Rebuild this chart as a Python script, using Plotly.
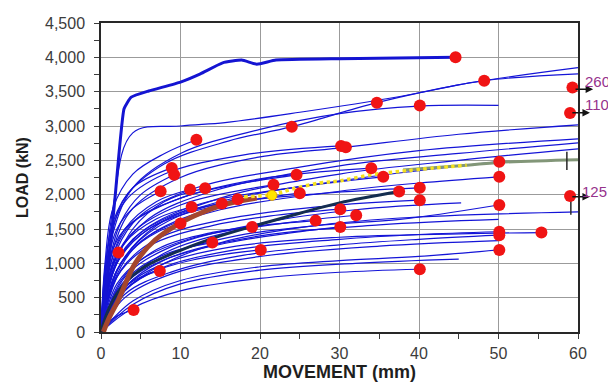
import plotly.graph_objects as go

# ---------------- data ----------------
# thin blue load-movement curves: (movement mm list, load kN list)
blue_curves = [
    ([0, 0.5, 1.2, 2.2], [0, 500, 900, 1156]),
    ([0, 1, 2.5, 4.1], [0, 150, 260, 321]),
    ([0, 1, 3, 5, 7.4], [0, 350, 650, 800, 889]),
    ([0, 0.8, 2, 4, 7.5], [0, 1000, 1500, 1800, 2050]),
    ([0, 0.6, 1.5, 4, 8.9], [0, 1000, 1600, 2100, 2390]),
    ([0, 1, 2.5, 5, 9.2], [0, 1000, 1600, 2000, 2290]),
    ([0, 0.5, 1.5, 4, 8, 12], [0, 1000, 1800, 2300, 2600, 2800]),
    ([0, 1, 3, 7, 11.2], [0, 900, 1500, 1900, 2075]),
    ([0, 1.5, 4, 8, 13.1], [0, 900, 1500, 1900, 2095]),
    ([0, 1.5, 4, 7, 10], [0, 700, 1200, 1450, 1580]),
    ([0, 1, 3, 7, 11.4], [0, 800, 1300, 1650, 1820]),
    ([0, 2, 5, 9, 14], [0, 600, 950, 1170, 1302]),
    ([0, 1.5, 4, 9, 15.2], [0, 900, 1350, 1700, 1870]),
    ([0, 2, 5, 10, 17.2], [0, 900, 1350, 1700, 1934]),
    ([0, 2, 5, 11, 19], [0, 700, 1050, 1350, 1530]),
    ([0, 2, 6, 12, 20.1], [0, 500, 850, 1060, 1195]),
    ([0, 1.5, 4, 10, 21.7], [0, 1000, 1450, 1850, 2143]),
    ([0, 1, 3, 10, 24.6], [0, 1000, 1500, 1950, 2289]),
    ([0, 2, 6, 14, 25], [0, 900, 1400, 1800, 2022]),
    ([0, 1, 3, 8, 16, 24, 34.7, 45, 60], [0, 1200, 1950, 2450, 2780, 2990, 3340, 3600, 3850]),
    ([0, 1.5, 4, 10, 15.6, 25, 37.6, 48.2, 60], [0, 1800, 2900, 3000, 3050, 3200, 3430, 3660, 3760]),
    ([0, 1.2, 4, 10, 20, 30, 40, 50], [0, 1300, 2100, 2600, 2950, 3180, 3290, 3300]),
    ([0, 1.5, 4, 10, 20, 30.8, 45, 60], [0, 1200, 1800, 2250, 2550, 2690, 2880, 3017]),
    ([0, 2, 5, 12, 25, 40, 60], [0, 1200, 1700, 2100, 2400, 2640, 2813]),
    ([0, 2, 6, 14, 30, 45, 60], [0, 1100, 1650, 2050, 2420, 2600, 2755]),
    ([0, 2.5, 7, 15, 30, 45, 60], [0, 1000, 1550, 1950, 2300, 2500, 2668]),
    ([0, 3, 8, 15, 25, 37.6, 60], [0, 600, 1000, 1300, 1520, 1660, 1750]),
    ([0, 2, 6, 15, 30, 40, 50], [0, 1000, 1500, 1900, 2200, 2350, 2480]),
    ([0, 2, 6, 15, 30, 40, 50], [0, 900, 1400, 1780, 2050, 2170, 2260]),
    ([0, 3, 8, 17, 28, 37.6, 50], [0, 700, 1100, 1400, 1560, 1640, 1850]),
    ([0, 3, 8, 17, 30, 40, 50], [0, 600, 950, 1200, 1350, 1420, 1460]),
    ([0, 3, 8, 17, 30, 45, 55.4], [0, 650, 1000, 1250, 1380, 1430, 1448]),
    ([0, 3, 9, 18, 30, 40, 50], [0, 550, 880, 1120, 1270, 1350, 1410]),
    ([0, 4, 10, 20, 30, 40, 50], [0, 450, 750, 950, 1040, 1100, 1195]),
    ([0, 4, 10, 20, 30, 40], [0, 350, 600, 780, 870, 914]),
    ([0, 3, 9, 20, 35, 50], [0, 700, 1100, 1400, 1560, 1640]),
    ([0, 2, 6, 15, 28, 40], [0, 1000, 1500, 1850, 2020, 2100]),
    ([0, 2.5, 7, 16, 28, 40], [0, 900, 1350, 1650, 1830, 1920]),
    ([0, 3, 9, 20, 32, 45.3], [0, 800, 1250, 1580, 1780, 1880]),
    ([0, 1, 3, 8, 18, 30.2], [0, 1300, 1900, 2300, 2580, 2710]),
    ([0, 1.5, 4, 10, 20, 34], [0, 1100, 1600, 1950, 2230, 2386]),
    ([0, 2, 5, 12, 24, 35.5], [0, 1000, 1450, 1850, 2100, 2260]),
    ([0, 2, 6, 14, 22, 30.1], [0, 800, 1250, 1550, 1700, 1789]),
    ([0, 3, 8, 16, 24, 32.1], [0, 700, 1150, 1450, 1600, 1700]),
    ([0, 3, 8, 16, 23, 30.1], [0, 650, 1050, 1300, 1430, 1530]),
    ([0, 2.5, 7, 14, 20, 27], [0, 750, 1200, 1450, 1550, 1622]),
    ([0, 4, 10, 20, 32, 45], [0, 400, 700, 900, 1000, 1060]),
    ([0, 3, 9, 20, 35, 50], [0, 500, 850, 1100, 1250, 1330]),
]

thick_x = [0, 0.8, 1.8, 2.9, 3.8, 6, 10, 12.5, 15.3, 17.7, 19.6, 22, 30, 44.6]
thick_y = [0, 800, 2000, 3250, 3420, 3510, 3640, 3760, 3920, 3960, 3900, 3960, 3980, 4000]

dark_x = [0, 1.1, 3, 5.5, 10, 15, 20, 25, 30, 37.5]
dark_y = [0, 370, 710, 950, 1190, 1400, 1570, 1730, 1880, 2045]

brown_x = [0.3, 1.0, 2.2, 4.3, 6.8, 10, 12.5, 15.3, 19.6]
brown_y = [0, 200, 470, 1000, 1340, 1590, 1730, 1850, 1950]

yellow_x = [18, 21.5, 24, 27.5, 30, 34, 38.5, 46]
yellow_y = [1970, 2000, 2080, 2170, 2200, 2290, 2350, 2430]

green_x = [38, 46, 50, 60]
green_y = [2360, 2430, 2470, 2510]

red_x = [44.6, 48.2, 59.3, 34.7, 40.1, 59.0, 24.0, 30.2, 30.8, 12.0, 8.9, 9.2, 7.5,
         11.2, 13.1, 50.1, 50.1, 59.0, 40.1, 40.1, 50.1, 50.1, 50.1, 55.4, 50.1,
         40.1, 34.0, 35.5, 24.6, 21.7, 37.5, 11.4, 15.2, 17.2, 25.0, 10.0, 14.0,
         19.0, 20.1, 27.0, 30.1, 30.1, 32.1, 2.2, 7.4, 4.1]
red_y = [4000, 3660, 3560, 3340, 3300, 3190, 2990, 2710, 2690, 2800, 2390, 2290, 2050,
         2075, 2095, 2480, 2260, 1980, 2100, 1920, 1850, 1460, 1410, 1448, 1195,
         914, 2386, 2260, 2289, 2143, 2045, 1820, 1870, 1934, 2022, 1580, 1302,
         1530, 1195, 1622, 1789, 1530, 1700, 1156, 889, 321]

yellow_dot_x = [21.5]
yellow_dot_y = [1990]

bar_x = [58.6, 59.1]
bar_lo = [2360, 1706]
bar_hi = [2624, 1997]

label_text = ["260", "110", "125"]
label_y = [3537, 3192, 1968]
label_text_y = [3648, 3309, 2045]
label_start_x = [59.5, 59.1, 59.1]
label_shift = [9, 9, 6]

blue = "rgb(20,20,215)"
font_family = "Liberation Sans, Arial"

fig = go.Figure()
for xs, ys in blue_curves:
    fig.add_trace(go.Scatter(x=xs, y=ys, mode="lines", line=dict(color=blue, width=1.2, shape="spline"),
                             hoverinfo="skip", showlegend=False))

fig.add_trace(go.Scatter(x=thick_x, y=thick_y, mode="lines",
                         line=dict(color="rgb(20,20,210)", width=3, shape="spline", smoothing=0.4),
                         showlegend=False))
fig.add_trace(go.Scatter(x=dark_x, y=dark_y, mode="lines",
                         line=dict(color="rgb(20,45,80)", width=3, shape="spline"), showlegend=False))
fig.add_trace(go.Scatter(x=green_x, y=green_y, mode="lines",
                         line=dict(color="rgb(130,150,120)", width=3, shape="spline"), showlegend=False))
fig.add_trace(go.Scatter(x=brown_x, y=brown_y, mode="lines",
                         line=dict(color="rgb(165,70,45)", width=5, shape="spline"), showlegend=False))
fig.add_trace(go.Scatter(x=yellow_x, y=yellow_y, mode="lines",
                         line=dict(color="rgb(245,225,30)", width=3.5, dash="dot", shape="spline"),
                         showlegend=False))

for bx, lo, hi in zip(bar_x, bar_lo, bar_hi):
    fig.add_trace(go.Scatter(x=[bx, bx], y=[lo, hi], mode="lines",
                             line=dict(color="rgb(40,40,40)", width=1.5), showlegend=False))

fig.add_trace(go.Scatter(x=red_x, y=red_y, mode="markers", cliponaxis=False,
                         marker=dict(color="rgb(240,20,20)", size=12, line=dict(width=0)),
                         showlegend=False))
fig.add_trace(go.Scatter(x=yellow_dot_x, y=yellow_dot_y, mode="markers",
                         marker=dict(color="rgb(255,230,0)", size=10, line=dict(color="rgb(230,170,0)", width=1)),
                         showlegend=False))

for t, ly, ty, sx, sh in zip(label_text, label_y, label_text_y, label_start_x, label_shift):
    fig.add_annotation(x=sx + 2.4, y=ly, ax=sx, ay=ly, xref="x", yref="y", axref="x", ayref="y",
                       text="", showarrow=True, arrowhead=2, arrowsize=1, arrowwidth=1.5,
                       arrowcolor="rgb(20,20,20)")
    fig.add_annotation(x=59.5, y=ty, xref="x", yref="y", text=t, showarrow=False,
                       xanchor="left", yanchor="middle", xshift=sh,
                       font=dict(family=font_family, size=15, color="rgb(150,50,140)"))

axis_common = dict(showline=True, linecolor="rgb(40,40,40)", linewidth=1.5, mirror=True,
                   showgrid=True, gridcolor="rgb(155,155,155)", gridwidth=1, automargin=False,
                   ticks="outside", ticklen=5, tickcolor="rgb(60,60,60)", zeroline=False,
                   tickfont=dict(family=font_family, size=16, color="rgb(60,60,60)"))

fig.update_xaxes(range=[0, 60], dtick=10, tick0=0, ticklabelstandoff=1,
                 minor=dict(dtick=5, ticks="outside", ticklen=5, tickcolor="rgb(60,60,60)", showgrid=False),
                 title=dict(text="<b>MOVEMENT (mm)</b>", standoff=4,
                            font=dict(family=font_family, size=18, color="rgb(30,30,30)")),
                 **axis_common)
fig.update_yaxes(range=[0, 4500], dtick=500, tick0=0, tickformat=",", ticklabelstandoff=6,
                 minor=dict(dtick=250, ticks="outside", ticklen=5, tickcolor="rgb(60,60,60)", showgrid=False),
                 title=dict(text="<b>LOAD (kN)</b>", standoff=12,
                            font=dict(family=font_family, size=16, color="rgb(30,30,30)")),
                 **axis_common)

# page body has an 8px margin, so the figure is sized to fit the 616x385 window
fig.update_layout(width=608, height=377, margin=dict(l=93, r=38, t=15, b=53),
                  paper_bgcolor="white", plot_bgcolor="white", showlegend=False)

fig.write_html("out.html")
